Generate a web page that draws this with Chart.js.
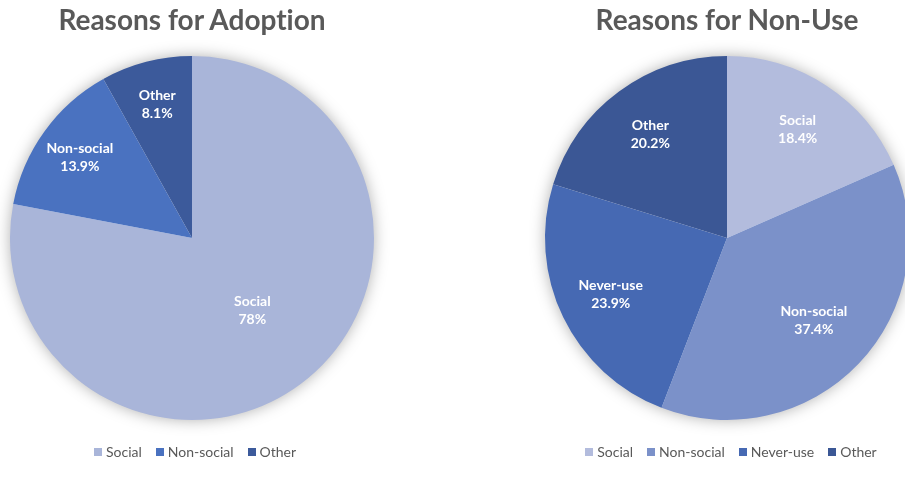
<!DOCTYPE html>
<html>
<head>
<meta charset="utf-8">
<script src="https://cdn.jsdelivr.net/npm/chart.js@4"></script>
<style>
  html, body { margin: 0; padding: 0; background: #fff; }
  body { width: 905px; height: 477px; overflow: hidden; position: relative; font-family: Lato, "Open Sans", sans-serif; font-variant-ligatures: none; }
  .pie { position: absolute; top: 28px; }
  .title { position: absolute; top: 0px; width: 420px; text-align: center; font-weight: bold; font-size: 28px; color: #595959; line-height: 38px; }
  .legend { position: absolute; top: 443px; width: 420px; display: flex; justify-content: center; font-size: 14px; color: #595959; }
  .legend span { display: flex; align-items: center; margin: 0 7px; }
  .legend i { display: inline-block; width: 8px; height: 8px; margin-right: 4px; }
</style>
</head>
<body>
<canvas id="adopt" class="pie" width="420" height="420" style="left:-18px"></canvas>
<canvas id="nonuse" class="pie" width="420" height="420" style="left:517px"></canvas>
<div class="title" style="left:-18px">Reasons for Adoption</div>
<div class="title" style="left:517px">Reasons for Non-Use</div>
<div class="legend" id="legAdopt" style="left:-15px"></div>
<div class="legend" id="legNonuse" style="left:521px"></div>
<script>
// left pie
const adoptLabels = ['Social', 'Non-social', 'Other'];
const adoptValues = [78, 13.9, 8.1];
const adoptText = ['78%', '13.9%', '8.1%'];

// right pie
const nonuseLabels = ['Social', 'Non-social', 'Never-use', 'Other'];
const nonuseValues = [18.4, 37.4, 23.9, 20.2];
const nonuseText = ['18.4%', '37.4%', '23.9%', '20.2%'];

const adoptColors = ['#a9b5d9', '#4a72c0', '#3c5a9b'];
const nonuseColors = ['#b3bcdd', '#7b91c9', '#4669b3', '#3b5795'];

// how far out from the centre each label sits (fraction of radius)
const adoptLabelPos = [0.52, 0.76, 0.76];
const nonuseLabelPos = [0.71, 0.66, 0.71, 0.71];

const pieShadow = {
  id: 'pieShadow',
  beforeDatasetsDraw(chart) {
    const arc = chart.getDatasetMeta(0).data[0];
    if (!arc) return;
    const ctx = chart.ctx;
    ctx.save();
    ctx.shadowColor = 'rgba(0,0,0,0.35)';
    ctx.shadowBlur = 16;
    ctx.beginPath();
    ctx.arc(arc.x, arc.y, arc.outerRadius - 1, 0, Math.PI * 2);
    ctx.fillStyle = '#fff';
    ctx.fill();
    ctx.restore();
  }
};

const sliceLabels = {
  id: 'sliceLabels',
  afterDatasetsDraw(chart, args, opts) {
    const ctx = chart.ctx;
    const names = chart.data.labels;
    chart.getDatasetMeta(0).data.forEach((arc, i) => {
      const mid = (arc.startAngle + arc.endAngle) / 2;
      const r = arc.outerRadius * opts.pos[i];
      const x = arc.x + Math.cos(mid) * r;
      const y = arc.y + Math.sin(mid) * r;
      ctx.save();
      ctx.fillStyle = '#fff';
      ctx.font = 'bold 14px Lato, "Open Sans", sans-serif';
      ctx.textAlign = 'center';
      ctx.textBaseline = 'middle';
      ctx.fillText(names[i], x, y - 9);
      ctx.fillText(opts.text[i], x, y + 9);
      ctx.restore();
    });
  }
};

function makePie(id, labels, values, colors, text, pos) {
  return new Chart(document.getElementById(id), {
    type: 'pie',
    data: {
      labels: labels,
      datasets: [{ data: values, backgroundColor: colors, borderWidth: 0 }]
    },
    options: {
      responsive: false,
      animation: false,
      radius: 182,
      layout: { padding: 0 },
      plugins: {
        legend: { display: false },
        tooltip: { enabled: false },
        sliceLabels: { text: text, pos: pos }
      }
    },
    plugins: [pieShadow, sliceLabels]
  });
}

function makeLegend(id, labels, colors) {
  const el = document.getElementById(id);
  labels.forEach((l, i) => {
    const s = document.createElement('span');
    s.innerHTML = '<i style="background:' + colors[i] + '"></i>' + l;
    el.appendChild(s);
  });
}

makePie('adopt', adoptLabels, adoptValues, adoptColors, adoptText, adoptLabelPos);
makePie('nonuse', nonuseLabels, nonuseValues, nonuseColors, nonuseText, nonuseLabelPos);
makeLegend('legAdopt', adoptLabels, adoptColors);
makeLegend('legNonuse', nonuseLabels, nonuseColors);
</script>
</body>
</html>
